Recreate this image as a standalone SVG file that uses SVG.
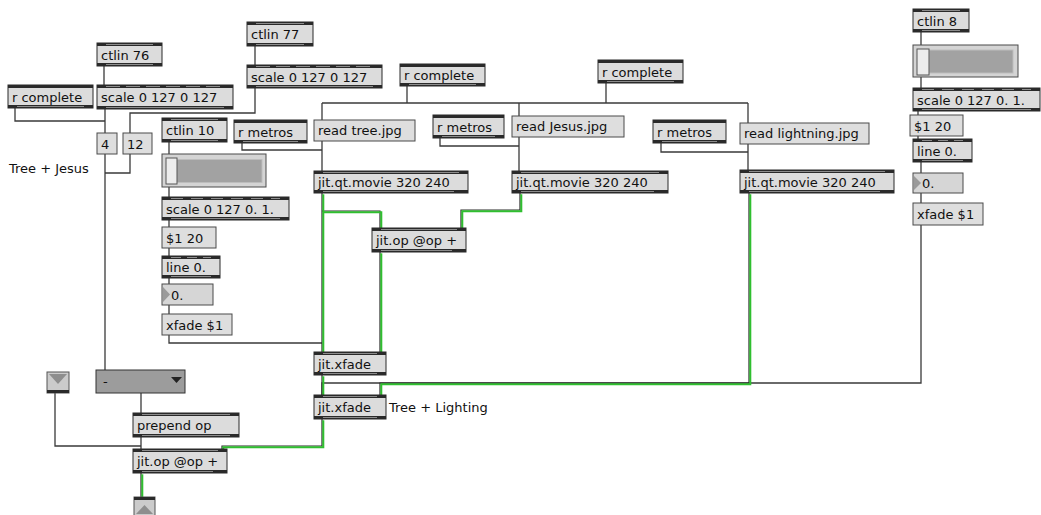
<svg xmlns="http://www.w3.org/2000/svg" xmlns:xlink="http://www.w3.org/1999/xlink" width="1041" height="515" viewBox="0 0 1041 515">
  <style>
    text { font-family: "DejaVu Sans", "Liberation Sans", sans-serif; font-size: 13px; fill: #111; }
    .body { fill: #dcdcdc; stroke: #2a2a2a; stroke-width: 1; }
    .band { fill: #2a2a2a; }
    .tex { stroke: #8c8c8c; stroke-width: 1; }
    .port { fill: #000; }
    .msg { fill: #dedede; stroke: #4a4a4a; stroke-width: 1; }
    .num { fill: #d6d6d6; stroke: #4a4a4a; stroke-width: 1; }
    .arrow { fill: #9a9a9a; }
    .sframe { fill: #d4d4d4; stroke: #4a4a4a; stroke-width: 1; }
    .strack { fill: #a2a2a2; stroke: #bdbdbd; stroke-width: 1; }
    .sknob { fill: #ececec; stroke: #555; stroke-width: 1; }
    .cord { fill: none; stroke: #3a3a3a; stroke-width: 1.3; }
    .mtx-dark { fill: none; stroke: #2a2a2a; stroke-width: 1.2; }
    .mtx-green { fill: none; stroke: #2fbf2f; stroke-width: 2; }
  </style>
  <defs>
    <!-- matrix (jitter) cord routes, drawn twice: dark edge plus green body -->
    <g id="mtx">
      <path d="M322 193 V352"/>
      <path d="M322 211 H380 V228"/>
      <path d="M520 193 V210 H461 V228"/>
      <path d="M380 252 V352"/>
      <path d="M749 193 V383 H380 V395"/>
      <path d="M322 375 V395"/>
      <path d="M322 419 V446 H222 V449"/>
      <path d="M141 473 V497"/>
    </g>
  </defs>
  <rect width="1041" height="515" fill="#fff"/>

  <!-- control cords -->
  <g id="cords">
    <path class="cord" d="M104 66 V85"/>
    <path class="cord" d="M15 108 V121 H105"/>
    <path class="cord" d="M105 109 V133"/>
    <path class="cord" d="M255 46 V65"/>
    <path class="cord" d="M255 88 V113 H130 V133"/>
    <path class="cord" d="M105 154 V370"/>
    <path class="cord" d="M130 154 V173 H105"/>
    <path class="cord" d="M407 86 V103"/>
    <path class="cord" d="M322 103 H748"/>
    <path class="cord" d="M322 103 V120"/>
    <path class="cord" d="M519 103 V116"/>
    <path class="cord" d="M606 83 V103"/>
    <path class="cord" d="M748 103 V123"/>
    <path class="cord" d="M322 141 V171"/>
    <path class="cord" d="M242 143 V150 H322"/>
    <path class="cord" d="M440 138 V146 H519"/>
    <path class="cord" d="M519 137 V171"/>
    <path class="cord" d="M661 143 V152 H748"/>
    <path class="cord" d="M748 144 V170"/>
    <path class="cord" d="M169 142 V154"/>
    <path class="cord" d="M169 187 V197"/>
    <path class="cord" d="M169 220 V227"/>
    <path class="cord" d="M169 248 V256"/>
    <path class="cord" d="M169 278 V284"/>
    <path class="cord" d="M169 305 V314"/>
    <path class="cord" d="M169 335 V343 H322"/>
    <path class="cord" d="M921 32 V45"/>
    <path class="cord" d="M921 77 V88"/>
    <path class="cord" d="M918 111 V115"/>
    <path class="cord" d="M918 136 V139"/>
    <path class="cord" d="M921 162 V173"/>
    <path class="cord" d="M921 193 V203"/>
    <path class="cord" d="M921 225 V383 H322 V395"/>
    <path class="cord" d="M141 393 V413"/>
    <path class="cord" d="M141 437 V449"/>
    <path class="cord" d="M55 393 V446 H141"/>
    <use xlink:href="#mtx" class="mtx-dark"/>
    <use xlink:href="#mtx" class="mtx-green" transform="translate(1.3,1.3)"/>
  </g>

  <!-- object boxes -->
  <g id="ctlin76" transform="translate(97,43)">
    <rect class="body" width="65" height="23"/><rect class="band" width="65" height="3"/><rect class="band" y="20" width="65" height="3"/>
    <line class="tex" x1="9" y1="1.5" x2="56" y2="1.5"/><line class="tex" x1="9" y1="21.5" x2="56" y2="21.5"/>
    <text x="4" y="17">ctlin 76</text>
  </g>
  <g id="ctlin77" transform="translate(247,22)">
    <rect class="body" width="66" height="24"/><rect class="band" width="66" height="3"/><rect class="band" y="21" width="66" height="3"/>
    <line class="tex" x1="9" y1="1.5" x2="57" y2="1.5"/><line class="tex" x1="9" y1="22.5" x2="57" y2="22.5"/>
    <text x="4" y="17">ctlin 77</text>
  </g>
  <g id="rcomplete1" transform="translate(8,85)">
    <rect class="body" width="85" height="23"/><rect class="band" width="85" height="3"/><rect class="band" y="20" width="85" height="3"/>
    <line class="tex" x1="9" y1="21.5" x2="76" y2="21.5"/>
    <text x="4" y="17">r complete</text>
  </g>
  <g id="scale1" transform="translate(97,85)">
    <rect class="body" width="136" height="24"/><rect class="band" width="136" height="3"/><rect class="band" y="21" width="136" height="3"/>
    <line class="tex" x1="9" y1="1.5" x2="127" y2="1.5" stroke-dasharray="14 6"/><line class="tex" x1="9" y1="22.5" x2="127" y2="22.5"/>
    <text x="4" y="17">scale 0 127 0 127</text>
  </g>
  <g id="scale2" transform="translate(247,65)">
    <rect class="body" width="135" height="23"/><rect class="band" width="135" height="3"/><rect class="band" y="20" width="135" height="3"/>
    <line class="tex" x1="9" y1="1.5" x2="126" y2="1.5" stroke-dasharray="14 6"/><line class="tex" x1="9" y1="21.5" x2="126" y2="21.5"/>
    <text x="4" y="17">scale 0 127 0 127</text>
  </g>
  <g id="rcomplete2" transform="translate(400,64)">
    <rect class="body" width="85" height="22"/><rect class="band" width="85" height="3"/><rect class="band" y="19" width="85" height="3"/>
    <line class="tex" x1="9" y1="20.5" x2="76" y2="20.5"/>
    <text x="4" y="16">r complete</text>
  </g>
  <g id="rcomplete3" transform="translate(598,60)">
    <rect class="body" width="85" height="23"/><rect class="band" width="85" height="3"/><rect class="band" y="20" width="85" height="3"/>
    <line class="tex" x1="9" y1="21.5" x2="76" y2="21.5"/>
    <text x="4" y="17">r complete</text>
  </g>
  <g id="ctlin10" transform="translate(162,118)">
    <rect class="body" width="65" height="24"/><rect class="band" width="65" height="3"/><rect class="band" y="21" width="65" height="3"/>
    <line class="tex" x1="9" y1="1.5" x2="56" y2="1.5"/><line class="tex" x1="9" y1="22.5" x2="56" y2="22.5"/>
    <text x="4" y="17">ctlin 10</text>
  </g>
  <g id="rmetros1" transform="translate(234,120)">
    <rect class="body" width="73" height="23"/><rect class="band" width="73" height="3"/><rect class="band" y="20" width="73" height="3"/>
    <line class="tex" x1="9" y1="21.5" x2="64" y2="21.5"/>
    <text x="4" y="17">r metros</text>
  </g>
  <g id="rmetros2" transform="translate(433,115)">
    <rect class="body" width="71" height="23"/><rect class="band" width="71" height="3"/><rect class="band" y="20" width="71" height="3"/>
    <line class="tex" x1="9" y1="21.5" x2="62" y2="21.5"/>
    <text x="4" y="17">r metros</text>
  </g>
  <g id="rmetros3" transform="translate(653,120)">
    <rect class="body" width="73" height="23"/><rect class="band" width="73" height="3"/><rect class="band" y="20" width="73" height="3"/>
    <line class="tex" x1="9" y1="21.5" x2="64" y2="21.5"/>
    <text x="4" y="17">r metros</text>
  </g>
  <g id="movie1" transform="translate(314,171)">
    <rect class="body" width="154" height="22"/><rect class="band" width="154" height="3"/><rect class="band" y="19" width="154" height="3"/>
    <line class="tex" x1="9" y1="1.5" x2="145" y2="1.5"/><line class="tex" x1="9" y1="20.5" x2="140" y2="20.5"/>
    <text x="4" y="16">jit.qt.movie 320 240</text>
  </g>
  <g id="movie2" transform="translate(512,171)">
    <rect class="body" width="156" height="22"/><rect class="band" width="156" height="3"/><rect class="band" y="19" width="156" height="3"/>
    <line class="tex" x1="9" y1="1.5" x2="147" y2="1.5"/><line class="tex" x1="9" y1="20.5" x2="142" y2="20.5"/>
    <text x="4" y="16">jit.qt.movie 320 240</text>
  </g>
  <g id="movie3" transform="translate(740,170)">
    <rect class="body" width="154" height="23"/><rect class="band" width="154" height="3"/><rect class="band" y="20" width="154" height="3"/>
    <line class="tex" x1="9" y1="1.5" x2="145" y2="1.5"/><line class="tex" x1="9" y1="21.5" x2="140" y2="21.5"/>
    <text x="4" y="17">jit.qt.movie 320 240</text>
  </g>
  <g id="scale3" transform="translate(162,197)">
    <rect class="body" width="127" height="23"/><rect class="band" width="127" height="3"/><rect class="band" y="20" width="127" height="3"/>
    <line class="tex" x1="9" y1="1.5" x2="118" y2="1.5" stroke-dasharray="12 8"/><line class="tex" x1="9" y1="21.5" x2="118" y2="21.5"/>
    <text x="4" y="17">scale 0 127 0. 1.</text>
  </g>
  <g id="line1" transform="translate(162,256)">
    <rect class="body" width="58" height="22"/><rect class="band" width="58" height="3"/><rect class="band" y="19" width="58" height="3"/>
    <line class="tex" x1="9" y1="1.5" x2="49" y2="1.5" stroke-dasharray="10 6"/><line class="tex" x1="9" y1="20.5" x2="49" y2="20.5"/>
    <text x="4" y="16">line 0.</text>
  </g>
  <g id="jitop1" transform="translate(372,228)">
    <rect class="body" width="94" height="24"/><rect class="band" width="94" height="3"/><rect class="band" y="21" width="94" height="3"/>
    <line class="tex" x1="9" y1="1.5" x2="85" y2="1.5"/><line class="tex" x1="9" y1="22.5" x2="80" y2="22.5"/>
    <text x="4" y="17">jit.op @op +</text>
  </g>
  <g id="xfade1" transform="translate(314,352)">
    <rect class="body" width="72" height="23"/><rect class="band" width="72" height="3"/><rect class="band" y="20" width="72" height="3"/>
    <line class="tex" x1="9" y1="1.5" x2="63" y2="1.5"/><line class="tex" x1="9" y1="21.5" x2="63" y2="21.5"/>
    <text x="4" y="17">jit.xfade</text>
  </g>
  <g id="xfade2" transform="translate(314,395)">
    <rect class="body" width="72" height="24"/><rect class="band" width="72" height="3"/><rect class="band" y="21" width="72" height="3"/>
    <line class="tex" x1="9" y1="1.5" x2="63" y2="1.5"/><line class="tex" x1="9" y1="22.5" x2="63" y2="22.5"/>
    <text x="4" y="17">jit.xfade</text>
  </g>
  <g id="prepend" transform="translate(133,413)">
    <rect class="body" width="106" height="24"/><rect class="band" width="106" height="3"/><rect class="band" y="21" width="106" height="3"/>
    <line class="tex" x1="9" y1="1.5" x2="97" y2="1.5"/><line class="tex" x1="9" y1="22.5" x2="97" y2="22.5"/>
    <text x="4" y="17">prepend op</text>
  </g>
  <g id="jitop2" transform="translate(133,449)">
    <rect class="body" width="94" height="24"/><rect class="band" width="94" height="3"/><rect class="band" y="21" width="94" height="3"/>
    <line class="tex" x1="9" y1="1.5" x2="85" y2="1.5"/><line class="tex" x1="9" y1="22.5" x2="80" y2="22.5"/>
    <text x="4" y="17">jit.op @op +</text>
  </g>
  <g id="ctlin8" transform="translate(913,9)">
    <rect class="body" width="56" height="23"/><rect class="band" width="56" height="3"/><rect class="band" y="20" width="56" height="3"/>
    <line class="tex" x1="9" y1="1.5" x2="47" y2="1.5"/><line class="tex" x1="9" y1="21.5" x2="47" y2="21.5"/>
    <text x="4" y="17">ctlin 8</text>
  </g>
  <g id="scale4" transform="translate(913,88)">
    <rect class="body" width="127" height="23"/><rect class="band" width="127" height="3"/><rect class="band" y="20" width="127" height="3"/>
    <line class="tex" x1="9" y1="1.5" x2="118" y2="1.5" stroke-dasharray="12 8"/><line class="tex" x1="9" y1="21.5" x2="118" y2="21.5"/>
    <text x="4" y="17">scale 0 127 0. 1.</text>
  </g>
  <g id="line2" transform="translate(913,139)">
    <rect class="body" width="59" height="23"/><rect class="band" width="59" height="3"/><rect class="band" y="20" width="59" height="3"/>
    <line class="tex" x1="9" y1="1.5" x2="50" y2="1.5" stroke-dasharray="10 6"/><line class="tex" x1="9" y1="21.5" x2="50" y2="21.5"/>
    <text x="4" y="17">line 0.</text>
  </g>

  <!-- message boxes -->
  <g id="msg4"><rect class="msg" x="97" y="133" width="20" height="21"/><text x="101" y="149">4</text></g>
  <g id="msg12"><rect class="msg" x="123" y="133" width="29" height="21"/><text x="127" y="149">12</text></g>
  <g id="readtree"><rect class="msg" x="314" y="120" width="101" height="21"/><text x="318" y="135">read tree.jpg</text></g>
  <g id="readjesus"><rect class="msg" x="512" y="116" width="112" height="21"/><text x="516" y="131">read Jesus.jpg</text></g>
  <g id="readlightning"><rect class="msg" x="740" y="123" width="129" height="21"/><text x="744" y="138">read lightning.jpg</text></g>
  <g id="ramp1"><rect class="msg" x="162" y="227" width="54" height="21"/><text x="166" y="243">$1 20</text></g>
  <g id="xfademsg1"><rect class="msg" x="162" y="314" width="70" height="21"/><text x="166" y="330">xfade $1</text></g>
  <g id="ramp2"><rect class="msg" x="910" y="115" width="53" height="21"/><text x="914" y="131">$1 20</text></g>
  <g id="xfademsg2"><rect class="msg" x="913" y="203" width="70" height="22"/><text x="917" y="219">xfade $1</text></g>

  <!-- float number boxes -->
  <g id="flonum1">
    <rect class="num" x="162" y="284" width="51" height="21"/>
    <polygon class="arrow" points="163,287 170,294.5 163,302"/>
    <text x="171" y="300">0.</text>
  </g>
  <g id="flonum2">
    <rect class="num" x="913" y="173" width="50" height="20"/>
    <polygon class="arrow" points="914,176 921,183 914,190"/>
    <text x="922" y="188">0.</text>
  </g>

  <!-- sliders -->
  <g id="slider1">
    <rect class="sframe" x="162" y="154" width="104" height="33"/>
    <rect class="strack" x="176" y="159.5" width="86" height="23"/>
    <rect class="sknob" x="166" y="158" width="11" height="26"/>
  </g>
  <g id="slider2">
    <rect class="sframe" x="913" y="45" width="105" height="32"/>
    <rect class="strack" x="929" y="50" width="84" height="23"/>
    <rect class="sknob" x="917" y="49" width="12" height="26"/>
  </g>

  <!-- pop-up menu -->
  <g id="umenu">
    <rect x="96" y="370" width="89" height="23" fill="#9c9c9c" stroke="#333"/>
    <text x="103" y="386">-</text>
    <polygon points="171,377 182,377 176.5,383" fill="#222"/>
  </g>

  <!-- patcher inlet / outlet -->
  <g id="inlet">
    <rect x="47" y="372" width="22" height="21" fill="#cbcbcb" stroke="#555"/>
    <polygon points="49,374 67,374 58,384" fill="#8e8e8e"/>
    <rect x="47" y="390" width="22" height="3" fill="#2a2a2a"/>
  </g>
  <g id="outlet">
    <rect x="134" y="497" width="21" height="20" fill="#cbcbcb" stroke="#555"/>
    <rect x="134" y="497" width="21" height="3" fill="#2a2a2a"/>
    <polygon points="136,514 153,514 144.5,505" fill="#8e8e8e"/>
  </g>

  <!-- comments -->
  <g id="comments">
    <text x="9" y="173">Tree + Jesus</text>
    <text x="389" y="412">Tree + Lighting</text>
  </g>
</svg>
